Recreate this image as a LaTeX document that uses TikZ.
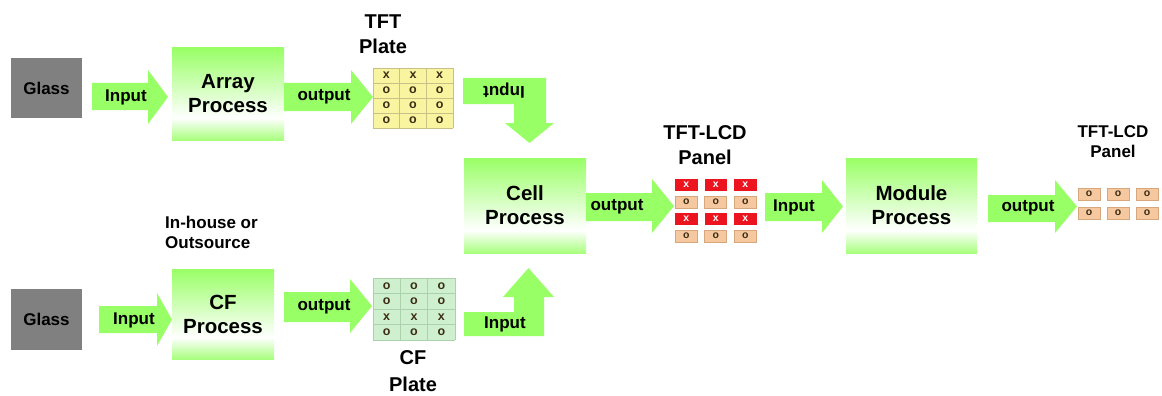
\documentclass[tikz,border=0pt]{standalone}
\usepackage{fontspec}
\setmainfont{Liberation Sans}
\definecolor{arrg}{RGB}{153,255,102}
\definecolor{boxg}{RGB}{153,255,102}
\definecolor{glassg}{RGB}{128,128,128}
\definecolor{tfty}{RGB}{248,244,160}
\definecolor{tftl}{RGB}{200,192,135}
\definecolor{cfg}{RGB}{206,240,206}
\definecolor{cfl}{RGB}{172,210,172}
\definecolor{lcdred}{RGB}{236,20,30}
\definecolor{lcdtan}{RGB}{246,200,160}
\definecolor{lcdtanl}{RGB}{214,166,124}
\definecolor{darkletter}{RGB}{60,45,20}
\pgfdeclareverticalshading{boxshade}{100bp}{color(0bp)=(boxg!85!white); color(25bp)=(boxg!85!white); color(37bp)=(white); color(75bp)=(boxg); color(100bp)=(boxg)}
\newcommand{\rightblock}[7]{%
  \fill[arr] (#1,#4) -- (#2,#4) -- (#2,#6) -- (#3,{(#6+#7)/2}) -- (#2,#7) -- (#2,#5) -- (#1,#5) -- cycle;}
\tikzset{
  arr/.style={fill=arrg},
  procbox/.style={shading=boxshade, inner sep=0pt, align=center,
    font=\fontsize{20.5}{24}\selectfont\bfseries},
  glassbox/.style={fill=glassg, inner sep=0pt, minimum width=71pt, minimum height=60pt,
    font=\fontsize{17}{20}\selectfont\bfseries},
  arrtxt/.style={font=\fontsize{17}{20}\selectfont\bfseries, inner sep=0pt},
  lbl/.style={font=\fontsize{20}{25}\selectfont\bfseries, align=center, inner sep=0pt},
  smlbl/.style={font=\fontsize{17}{20}\selectfont\bfseries, align=center, inner sep=0pt},
  cellt/.style={font=\fontsize{12.5}{12}\selectfont\bfseries, inner sep=0pt, text=darkletter},
  lcdr/.style={fill=lcdred, text=white, inner sep=0pt, minimum width=22.5pt, minimum height=12pt,
    font=\fontsize{10.5}{10}\selectfont\bfseries},
  lcdt/.style={fill=lcdtan, draw=lcdtanl, line width=0.6pt, text=darkletter, inner sep=0pt,
    minimum width=22pt, minimum height=12pt, font=\fontsize{10.5}{10}\selectfont\bfseries},
}
\begin{document}
\begin{tikzpicture}[x=1pt,y=-1pt]
\useasboundingbox (0,0) rectangle (1162,396);

% ---------- top row ----------
\node[glassbox] (glass1) at (46.5,88) {Glass};
\rightblock{92}{148}{168}{83}{110}{70}{124}
\node[arrtxt] (in1) at (126,97) {Input};
\node[procbox, minimum width=112pt, minimum height=92pt] (array) at (228,94) {Array\\Process};
\rightblock{284}{351}{373}{83}{111}{70}{124}
\node[arrtxt] (out1) at (324,97) {output};

% TFT plate
\fill[tfty] (373,68) rectangle (453,128);
\foreach \i in {0,...,3} \draw[tftl, line width=0.7pt] ({373+\i*80/3},68) -- ++(0,60);
\foreach \j in {0,...,4} \draw[tftl, line width=0.7pt] (373,{68+\j*15}) -- ++(80,0);
\foreach \r/\t in {0/x,1/o,2/o,3/o}
  \foreach \c in {0,1,2}
    \node[cellt] (tft-\r-\c) at ({373+(\c+0.5)*80/3},{68+(\r+0.5)*15}) {\t};
\node[lbl] (tftlbl) at (383,34.5) {TFT\\Plate};

% bent arrow down
\fill[arr] (463,78) -- (546,78) -- (546,123) -- (554,123) -- (529.5,143) -- (505,123)
  -- (514,123) -- (514,104) -- (463,104) -- cycle;
\node[arrtxt, rotate=180] (in4) at (504,91) {Input};

% ---------- middle ----------
\node[procbox, minimum width=122pt, minimum height=95pt] (cell) at (525,205.5) {Cell\\Process};
\rightblock{586}{652}{674}{193}{221}{179}{233}
\node[arrtxt] (out3) at (617,207) {output};

\foreach \r/\k/\t in {0/lcdr/x,1/lcdt/o,2/lcdr/x,3/lcdt/o}
  \foreach \c in {0,1,2}
    \node[\k] (lcd-\r-\c) at ({686.25+\c*29.5},{185+\r*17}) {\t};
\node[lbl] (lcdlbl) at (705,145.5) {TFT-LCD\\Panel};

\rightblock{765}{822}{843}{193}{221}{180}{233}
\node[arrtxt] (in3) at (794,207) {Input};
\node[procbox, minimum width=131pt, minimum height=95pt] (module) at (911.5,205.5) {Module\\Process};
\rightblock{988}{1055}{1077}{195}{222}{180}{233}
\node[arrtxt] (out4) at (1028,208) {output};

\foreach \r in {0,1}
  \foreach \c in {0,1,2}
    \node[lcdt] (fin-\r-\c) at ({1089+\c*29},{194+\r*19}) {o};
\node[smlbl] (finlbl) at (1113,142) {TFT-LCD\\Panel};

% ---------- bottom row ----------
\node[glassbox, minimum height=61pt] (glass2) at (46.5,319.5) {Glass};
\rightblock{99}{157}{172}{306}{333}{293}{346}
\node[arrtxt] (in2) at (134,320) {Input};
\node[procbox, minimum width=102pt, minimum height=90pt] (cf) at (223,314) {CF\\Process};
\node[smlbl, align=left, anchor=west] (house) at (165,232.5) {In-house or\\Outsource};
\rightblock{284}{350}{372}{292}{322}{279}{333}
\node[arrtxt] (out2) at (324,307) {output};

% CF plate
\fill[cfg] (373,278) rectangle (455,340);
\foreach \i in {0,...,3} \draw[cfl, line width=0.7pt] ({373+\i*82/3},278) -- ++(0,62);
\foreach \j in {0,...,4} \draw[cfl, line width=0.7pt] (373,{278+\j*15.5}) -- ++(82,0);
\foreach \r/\t in {0/o,1/o,2/x,3/o}
  \foreach \c in {0,1,2}
    \node[cellt] (cfp-\r-\c) at ({373+(\c+0.5)*82/3},{278+(\r+0.5)*15.5}) {\t};
\node[lbl, font=\fontsize{20}{27}\selectfont\bfseries] (cflbl) at (413,371) {CF\\Plate};

% bent arrow up
\fill[arr] (464,336) -- (544,336) -- (544,297) -- (554,297) -- (528.5,268) -- (503,297)
  -- (514,297) -- (514,312) -- (464,312) -- cycle;
\node[arrtxt] (in5) at (505,324) {Input};
\end{tikzpicture}
\end{document}
